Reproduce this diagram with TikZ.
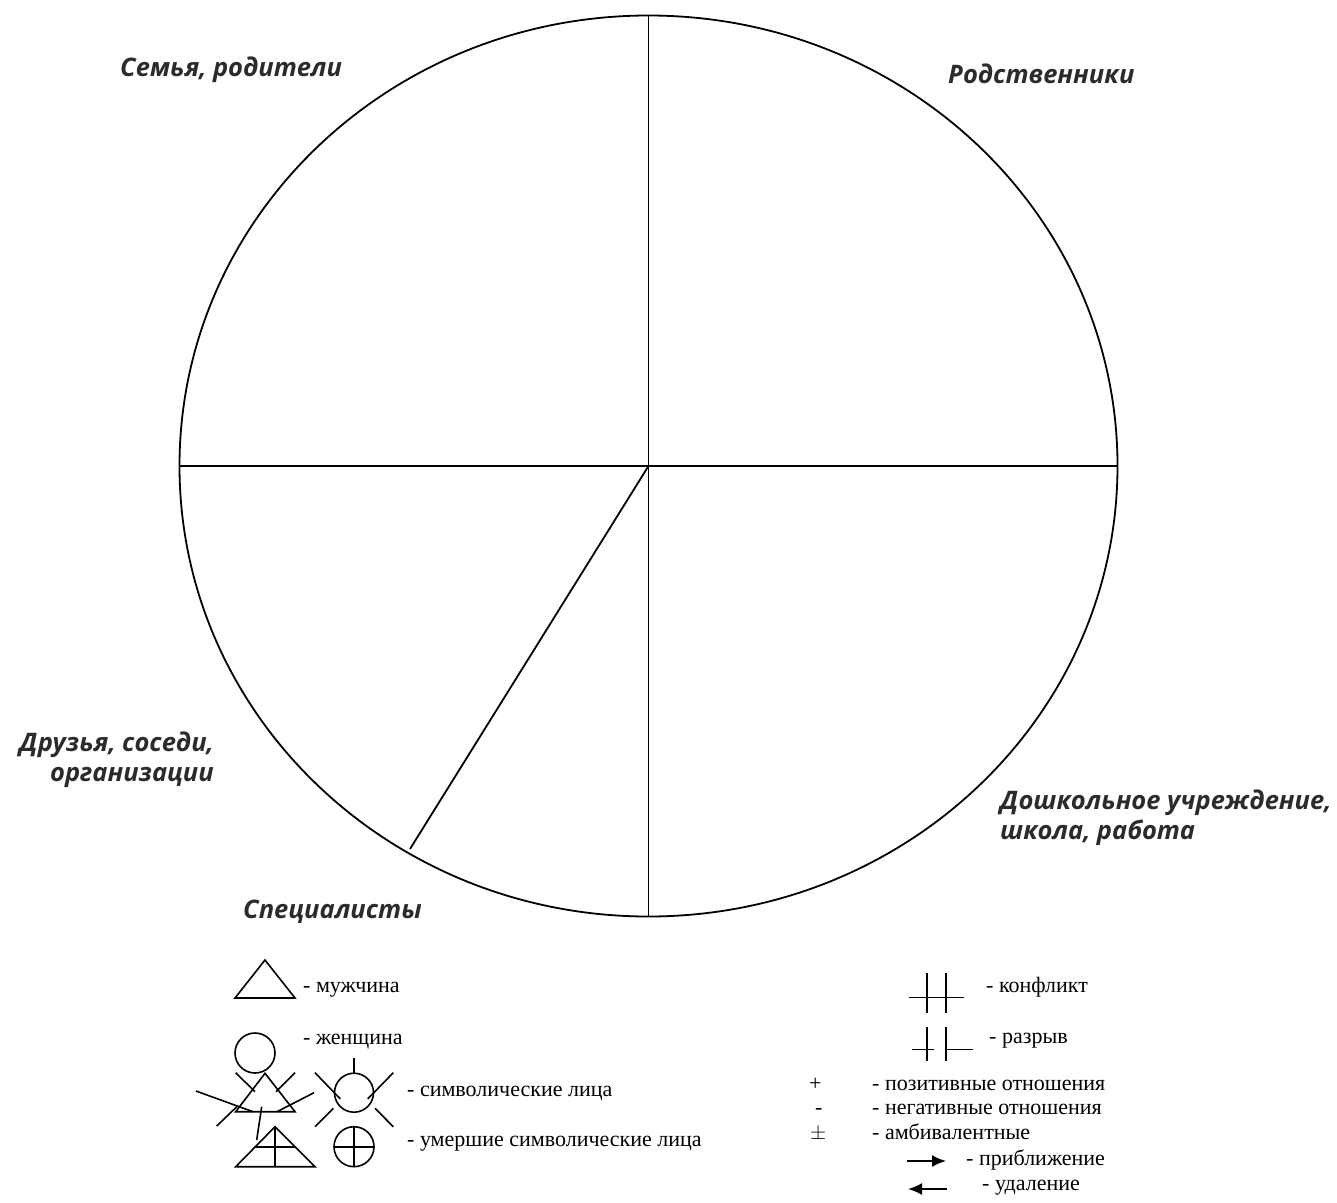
\documentclass[tikz,border=0pt]{standalone}
\usepackage{fontspec}
\setmainfont{Liberation Serif}
\newfontfamily\labfont{Open Sans}
\usetikzlibrary{shapes.geometric,arrows.meta}
\definecolor{labgray}{HTML}{2B2B2B}
\begin{document}
\begin{tikzpicture}[x=1pt,y=-1pt,
  lab/.style={font=\labfont\bfseries\itshape\fontsize{25.5}{30}\selectfont, text=labgray, inner sep=0pt},
  leg/.style={font=\fontsize{22}{24}\selectfont, anchor=base west, inner sep=0pt},
  ln/.style={line width=1.8pt},
  sym/.style={line width=1.6pt},
  arr/.style={line width=1.8pt, -{Latex[length=14pt,width=12pt]}}]
\useasboundingbox (0,0) rectangle (1337,1202);
% main ellipse
\node[ellipse, draw, ln, minimum width=938pt, minimum height=901pt, inner sep=0pt] (circ) at (648.5,466) {};
\coordinate (diagend) at (410,849);
\draw[ln] (circ.north) -- (circ.south);
\draw[ln] (circ.west) -- (circ.east);
\draw[ln] (circ.center) -- (diagend);
% sector labels
\node[lab, anchor=west] (l1) at (120,70) {Семья, родители};
\node[lab, anchor=west] (l2) at (948,74) {Родственники};
\node[lab, anchor=east, align=right] (l3) at (214,760) {Друзья, соседи,\\организации};
\node[lab, anchor=west, align=left] (l4) at (1000,818) {Дошкольное учреждение,\\школа, работа};
\node[lab, anchor=west] (l5) at (243,912) {Специалисты};
% legend left: man
\draw[sym] (235,998) -- (295,998) -- (265,960) -- cycle;
\node[leg] (t1) at (303,992) {- мужчина};
% woman
\draw[sym] (255,1053) circle (20);
\node[leg] (t2) at (303,1044) {- женщина};
% symbolic person (triangle with rays)
\draw[sym] (235.7,1111.7) -- (295,1111.7) -- (265,1073.3) -- cycle;
\draw[sym] (235.7,1072.7) -- (255,1091.7);
\draw[sym] (295,1072.7) -- (276,1091.7);
\draw[sym] (196,1091) -- (253,1111.7);
\draw[sym] (314,1092.7) -- (277,1111.7);
\draw[sym] (216.7,1126) -- (237,1106.5);
\draw[sym] (261.7,1106.7) -- (256.7,1140);
% symbolic person (circle with rays)
\draw[sym] (354,1092.7) circle (19.5);
\draw[sym] (354,1058.3) -- (354,1073.2);
\draw[sym] (315,1072.7) -- (340.2,1098.8);
\draw[sym] (393.3,1072.7) -- (367.8,1098.8);
\draw[sym] (315,1126.7) -- (333.3,1108.3);
\draw[sym] (393.3,1126.7) -- (375,1108.3);
\node[leg] (t3) at (407,1096) {- символические лица};
% deceased triangle
\draw[sym] (235.7,1166.7) -- (315,1166.7) -- (275,1126.7) -- cycle;
\draw[sym] (255.3,1146.7) -- (294.7,1146.7);
\draw[sym] (275,1126.7) -- (275,1166.7);
% deceased circle
\draw[sym] (354,1146.7) circle (20);
\draw[sym] (334,1146.7) -- (374,1146.7);
\draw[sym] (354,1126.7) -- (354,1166.7);
\node[leg] (t4) at (407,1146) {- умершие символические лица};
% legend right: conflict
\draw[sym] (926.7,973.3) -- (926.7,1013.3);
\draw[sym] (946,973.3) -- (946,1013.3);
\draw[sym] (909.3,997.3) -- (964,997.3);
\node[leg] (t5) at (986,992) {- конфликт};
% break
\draw[sym] (926.7,1026.7) -- (926.7,1061);
\draw[sym] (946,1026.7) -- (946,1061);
\draw[sym] (911.7,1049.3) -- (934,1049.3);
\draw[sym] (946,1049.3) -- (972.7,1049.3);
\node[leg] (t6) at (989,1043) {- разрыв};
% signs
\node[leg] (s1) at (809,1090) {+};
\node[leg] (s2) at (815,1114.5) {-};
\node[leg] (s3) at (810,1139) {$\pm$};
\node[leg] (t7) at (872,1090) {- позитивные отношения};
\node[leg] (t8) at (872,1114.5) {- негативные отношения};
\node[leg] (t9) at (872,1139) {- амбивалентные};
% arrows
\coordinate (a1s) at (907,1161);
\coordinate (a1e) at (946,1161);
\draw[arr] (a1s) -- (a1e);
\node[leg] (t10) at (966,1165) {- приближение};
\coordinate (a2s) at (947,1189);
\coordinate (a2e) at (908,1189);
\draw[arr] (a2s) -- (a2e);
\node[leg] (t11) at (982,1190) {- удаление};
\end{tikzpicture}
\end{document}
